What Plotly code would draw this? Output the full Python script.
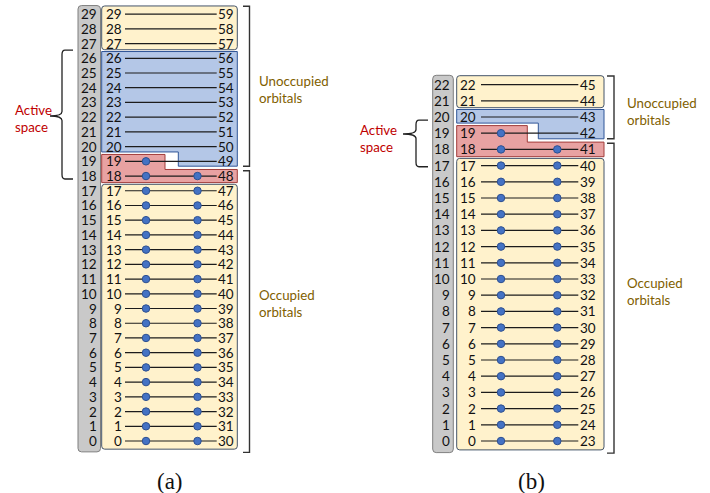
import plotly.graph_objects as go

# ---------------------------------------------------------------------------
# Orbital data
# ---------------------------------------------------------------------------
# (a) 30 spatial orbitals: alpha spin-orbitals 0-29, beta spin-orbitals 30-59
orbitals_a = [0, 1, 2, 3, 4, 5, 6, 7, 8, 9, 10, 11, 12, 13, 14,
              15, 16, 17, 18, 19, 20, 21, 22, 23, 24, 25, 26, 27, 28, 29]
beta_labels_a = [30, 31, 32, 33, 34, 35, 36, 37, 38, 39, 40, 41, 42, 43, 44,
                 45, 46, 47, 48, 49, 50, 51, 52, 53, 54, 55, 56, 57, 58, 59]
n_alpha_a = 20          # occupied alpha orbitals (0-19)
n_beta_a = 19           # occupied beta orbitals (0-18)
active_a = [18, 26]     # first / last spatial orbital of the active space

# (b) 23 spatial orbitals: alpha spin-orbitals 0-22, beta spin-orbitals 23-45
orbitals_b = [0, 1, 2, 3, 4, 5, 6, 7, 8, 9, 10, 11,
              12, 13, 14, 15, 16, 17, 18, 19, 20, 21, 22]
beta_labels_b = [23, 24, 25, 26, 27, 28, 29, 30, 31, 32, 33, 34,
                 35, 36, 37, 38, 39, 40, 41, 42, 43, 44, 45]
n_alpha_b = 20
n_beta_b = 19
active_b = [18, 20]

captions = ["(a)", "(b)"]

# ---------------------------------------------------------------------------
# Styling / layout of each panel (x in page pixels, rows on own y axis)
# ---------------------------------------------------------------------------
W, H = 710, 493
BASE_PX = 441  # pixel row of orbital 0

panels = [
    dict(yref="y", orbitals=orbitals_a, beta=beta_labels_a, n_alpha=n_alpha_a,
         n_beta=n_beta_a, active=active_a, row_px=14.72, caption=captions[0],
         cap_x=170, gray=(78, 100.5), box=(101.7, 237.3), notch_blue=178.3,
         notch_red=165.0, gray_lbl=96.6, left_lbl=121.8, line=(125, 216.7),
         dots=(146, 197.5), right_lbl=218.3, bracket=(243, 249.5), side_x=257,
         unocc_y=23.85, occ_y=9.34,
         act_x=12.5, act_y=21.94, brace=(73, 62, 50), brace_y=(26.56, 22.08, 17.8)),
    dict(yref="y2", orbitals=orbitals_b, beta=beta_labels_b, n_alpha=n_alpha_b,
         n_beta=n_beta_b, active=active_b, row_px=16.2, caption=captions[1],
         cap_x=531.5, gray=(432.7, 453.3), box=(456.7, 604.0), notch_blue=538.3,
         notch_red=527.3, gray_lbl=449.8, left_lbl=475.8, line=(481, 578.3),
         dots=(501, 557.3), right_lbl=579.8, bracket=(607, 614), side_x=625,
         unocc_y=20.31, occ_y=9.24,
         act_x=358.3, act_y=18.68, brace=(428, 416, 403), brace_y=(19.81, 18.95, 16.93)),
]

NUM_FONT = dict(family="Lato, Carlito, 'Open Sans', sans-serif", size=13.5, color="#111111")
SIDE_FONT = dict(family="Lato, Carlito, 'Open Sans', sans-serif", size=13.3, color="#7f6000")
ACT_FONT = dict(family="Lato, Carlito, 'Open Sans', sans-serif", size=13.3, color="#c00000")
CAP_FONT = dict(family="'Liberation Serif', 'DejaVu Serif', serif", size=23, color="#111111")

YELLOW = dict(fill="#fff2cc", line="#44546a")
BLUE = dict(fill="#b4c7e7", line="#2f5597")
RED = dict(fill="#e8a2a2", line="#a13c3a")
GRAY = dict(fill="#c9c9c9", line="#7f7f7f")


def edge(p, boundary, dpx):
    """Row coordinate of a row boundary shifted by dpx pixels (upwards > 0)."""
    return boundary + dpx / p["row_px"]


def rrect(x0, x1, y0, y1, r, s):
    ry = r / s
    return (f"M {x0 + r},{y0} L {x1 - r},{y0} Q {x1},{y0} {x1},{y0 + ry} "
            f"L {x1},{y1 - ry} Q {x1},{y1} {x1 - r},{y1} L {x0 + r},{y1} "
            f"Q {x0},{y1} {x0},{y1 - ry} L {x0},{y0 + ry} Q {x0},{y0} {x0 + r},{y0} Z")


def poly(points):
    return "M " + " L ".join(f"{x},{y}" for x, y in points) + " Z"


fig = go.Figure()
shapes = []
annotations = []

for p in panels:
    yref = p["yref"]
    s = p["row_px"]
    top_row = p["orbitals"][-1]
    act_lo, act_hi = p["active"]
    xL, xR = p["box"]

    # gray column with spatial-orbital indices
    shapes.append(dict(type="path", xref="x", yref=yref, layer="below",
                       path=rrect(p["gray"][0], p["gray"][1],
                                  edge(p, -0.5, -3.5), edge(p, top_row + 0.5, 1.2), 3.5, s),
                       fillcolor=GRAY["fill"], line=dict(color=GRAY["line"], width=1)))

    # unoccupied orbitals above the active space
    shapes.append(dict(type="path", xref="x", yref=yref, layer="below",
                       path=rrect(xL, xR, edge(p, act_hi + 0.5, 1.2),
                                  edge(p, top_row + 0.5, 0.8), 3, s),
                       fillcolor=YELLOW["fill"], line=dict(color=YELLOW["line"], width=1)))

    # unoccupied part of the active space
    y_top = edge(p, act_hi + 0.5, -0.6)
    y_beta = edge(p, p["n_beta"] - 0.5, 2.5)
    y_alpha = edge(p, p["n_alpha"] - 0.5, 2.0)
    shapes.append(dict(type="path", xref="x", yref=yref, layer="below",
                       path=poly([(xL, y_top), (xR, y_top), (xR, y_beta),
                                  (p["notch_blue"], y_beta), (p["notch_blue"], y_alpha),
                                  (xL, y_alpha)]),
                       fillcolor=BLUE["fill"], line=dict(color=BLUE["line"], width=1)))

    # occupied part of the active space
    r_alpha = edge(p, p["n_alpha"] - 0.5, -0.5)
    r_beta = edge(p, p["n_beta"] - 0.5, -0.8)
    r_bot = edge(p, act_lo - 0.5, 0.8)
    shapes.append(dict(type="path", xref="x", yref=yref, layer="below",
                       path=poly([(xL, r_alpha), (p["notch_red"], r_alpha),
                                  (p["notch_red"], r_beta), (xR, r_beta),
                                  (xR, r_bot), (xL, r_bot)]),
                       fillcolor=RED["fill"], line=dict(color=RED["line"], width=1)))

    # occupied orbitals below the active space
    shapes.append(dict(type="path", xref="x", yref=yref, layer="below",
                       path=rrect(xL, xR, edge(p, -0.5, -0.8),
                                  edge(p, act_lo - 0.5, -0.9), 3, s),
                       fillcolor=YELLOW["fill"], line=dict(color=YELLOW["line"], width=1)))

    # brackets on the right
    bx0, bx1 = p["bracket"]
    u_top = edge(p, top_row + 0.5, 0.5)
    u_bot = edge(p, p["n_beta"] - 0.5, 2.5)
    o_top = edge(p, p["n_beta"] - 0.5, -2.0)
    o_bot = edge(p, -0.5, -4.0)
    for t, b in ((u_top, u_bot), (o_top, o_bot)):
        shapes.append(dict(type="path", xref="x", yref=yref,
                           path=f"M {bx0},{t} L {bx1},{t} L {bx1},{b} L {bx0},{b}",
                           line=dict(color="#333333", width=1.4)))

    # curly brace marking the active space
    xh, xv, xt = p["brace"]
    yt, ym, yb = p["brace_y"]
    ry = 4.5 / s
    brace_path = (f"M {xh},{yt} L {xv + 3},{yt} Q {xv},{yt} {xv},{yt - ry} "
                  f"L {xv},{ym + ry} Q {xv},{ym} {xt},{ym} "
                  f"Q {xv},{ym} {xv},{ym - ry} L {xv},{yb + ry} "
                  f"Q {xv},{yb} {xv + 3},{yb} L {xh},{yb}")
    shapes.append(dict(type="path", xref="x", yref=yref, path=brace_path,
                       line=dict(color="#222222", width=1.3)))

    # orbital levels
    lx, ly = [], []
    for r in p["orbitals"]:
        lx += [p["line"][0], p["line"][1], None]
        ly += [r, r, None]
    fig.add_trace(go.Scatter(x=lx, y=ly, yaxis=yref, mode="lines",
                             line=dict(color="#1c1c1c", width=1.2),
                             hoverinfo="skip", showlegend=False))

    # electrons: alpha (left) and beta (right)
    alpha_rows = p["orbitals"][:p["n_alpha"]]
    beta_rows = p["orbitals"][:p["n_beta"]]
    fig.add_trace(go.Scatter(x=[p["dots"][0]] * len(alpha_rows) + [p["dots"][1]] * len(beta_rows),
                             y=alpha_rows + beta_rows, yaxis=yref, mode="markers",
                             marker=dict(size=7.5, color="#4472c4",
                                         line=dict(color="#2e5090", width=1)),
                             hoverinfo="skip", showlegend=False))

    # index labels
    for r, bl in zip(p["orbitals"], p["beta"]):
        common = dict(xref="x", yref=yref, y=r, showarrow=False, font=NUM_FONT,
                      yanchor="middle", borderpad=0, borderwidth=0)
        annotations.append(dict(x=p["gray_lbl"], text=str(r), xanchor="right", **common))
        annotations.append(dict(x=p["left_lbl"], text=str(r), xanchor="right", **common))
        annotations.append(dict(x=p["right_lbl"], text=str(bl), xanchor="left", **common))

    # side texts
    annotations.append(dict(xref="x", yref=yref, x=p["side_x"], y=p["unocc_y"],
                            text="Unoccupied<br>orbitals", showarrow=False, align="left",
                            xanchor="left", yanchor="middle", font=SIDE_FONT))
    annotations.append(dict(xref="x", yref=yref, x=p["side_x"], y=p["occ_y"],
                            text="Occupied<br>orbitals", showarrow=False, align="left",
                            xanchor="left", yanchor="middle", font=SIDE_FONT))
    annotations.append(dict(xref="x", yref=yref, x=p["act_x"], y=p["act_y"],
                            text="Active<br>space", showarrow=False, align="left",
                            xanchor="left", yanchor="middle", font=ACT_FONT))

    # panel caption
    annotations.append(dict(xref="x", yref="paper", x=p["cap_x"], y=1 - 481 / H,
                            text=p["caption"], showarrow=False, xanchor="center",
                            yanchor="middle", font=CAP_FONT))

pa, pb = panels
fig.update_layout(
    width=W, height=H,
    margin=dict(l=0, r=0, t=0, b=0),
    paper_bgcolor="white", plot_bgcolor="white",
    xaxis=dict(range=[0, W], visible=False, fixedrange=True),
    yaxis=dict(range=[-(H - BASE_PX) / pa["row_px"], BASE_PX / pa["row_px"]],
               visible=False, fixedrange=True),
    yaxis2=dict(range=[-(H - BASE_PX) / pb["row_px"], BASE_PX / pb["row_px"]],
                visible=False, fixedrange=True, overlaying="y"),
    shapes=shapes,
    annotations=annotations,
    showlegend=False,
)

fig.write_html("out.html")
